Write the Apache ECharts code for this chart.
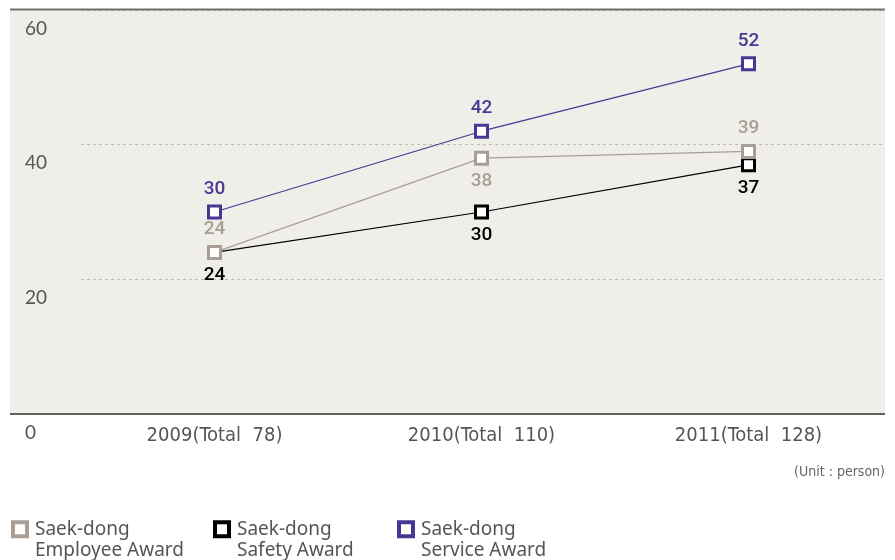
<!DOCTYPE html>
<html>
<head>
<meta charset="utf-8">
<script src="https://cdn.jsdelivr.net/npm/echarts@6/dist/echarts.min.js"></script>
<style>
  html, body { margin: 0; padding: 0; background: #ffffff; }
  #chart { width: 895px; height: 560px; }
</style>
</head>
<body>
<div id="chart"></div>
<script>
// Award recipients per year (unit: person)
const categories = ['2009(Total  78)', '2010(Total  110)', '2011(Total  128)'];
const employeeAward = [24, 38, 39];
const safetyAward = [24, 30, 37];
const serviceAward = [30, 42, 52];
const yMin = 0, yMax = 60, yStep = 20;

const seriesNames = ['Saek-dong\nEmployee Award', 'Saek-dong\nSafety Award', 'Saek-dong\nService Award'];
const colors = ['#a99e95', '#000000', '#4a3794'];

const chart = echarts.init(document.getElementById('chart'), null, { renderer: 'canvas' });

const labelFont = { fontFamily: 'Roboto, Noto Sans, sans-serif', fontSize: 19, fontWeight: 500 };

// The 2010 employee value sits right under the service marker, so its label goes below
const employeeData = employeeAward.map(function (v, k) {
  return k === 1 ? { value: v, label: { position: 'bottom' } } : v;
});

function lineSeries(i, data, labelPos, z) {
  return {
    name: seriesNames[i],
    type: 'line',
    data: data,
    symbol: 'rect',
    symbolSize: 12,
    z: z,
    lineStyle: { color: colors[i], width: 1.2 },
    itemStyle: { color: '#ffffff', borderColor: colors[i], borderWidth: 3 },
    label: Object.assign({ show: true, position: labelPos, distance: 6, color: colors[i] }, labelFont),
    labelLayout: { hideOverlap: false },
    emphasis: { disabled: true },
    animation: false
  };
}

// One legend block per series; the leading blank line keeps the icon level with the first text line
function legendAt(i, left) {
  return {
    data: [seriesNames[i]],
    left: left,
    top: 497,
    padding: 0,
    icon: 'rect',
    itemWidth: 14,
    itemHeight: 14,
    itemStyle: { color: '#ffffff', borderColor: colors[i], borderWidth: 4 },
    formatter: function (name) { return '\n' + name; },
    textStyle: {
      color: '#555555',
      fontFamily: 'Noto Sans, sans-serif',
      fontSize: 19,
      lineHeight: 21.5,
      padding: [0, 0, 0, 3]
    },
    selectedMode: false
  };
}

chart.setOption({
  animation: false,
  grid: { left: 81, right: 13, top: 10, bottom: 146, containLabel: false },
  graphic: [
    { type: 'rect', z: -10, shape: { x: 10, y: 9, width: 875, height: 405 }, style: { fill: '#efeee9' } },
    { type: 'line', z: 10, shape: { x1: 10, y1: 9.5, x2: 885, y2: 9.5 }, style: { stroke: '#707070', lineWidth: 2 } },
    { type: 'line', z: 10, shape: { x1: 10, y1: 414, x2: 885, y2: 414 }, style: { stroke: '#606060', lineWidth: 2 } }
  ],
  title: {
    text: '(Unit : person)',
    right: 10,
    top: 465,
    padding: 0,
    textStyle: { color: '#666666', fontSize: 14, fontWeight: 'normal', fontFamily: 'Liberation Sans Narrow, DejaVu Sans Condensed, sans-serif' }
  },
  xAxis: {
    type: 'category',
    data: categories,
    boundaryGap: true,
    axisLine: { show: false },
    axisTick: { show: false },
    axisLabel: {
      margin: 12,
      color: '#555555',
      fontSize: 20,
      fontFamily: 'Liberation Sans Narrow, DejaVu Sans Condensed, sans-serif'
    },
    splitLine: { show: false }
  },
  yAxis: {
    type: 'value',
    min: yMin,
    max: yMax,
    interval: yStep,
    axisLine: { show: false },
    axisTick: { show: false },
    axisLabel: {
      align: 'left',
      verticalAlign: 'top',
      margin: 56,
      padding: [9, 0, 0, 0],
      color: '#555555',
      fontSize: 19,
      fontFamily: 'Lato, Noto Sans, sans-serif'
    },
    splitLine: { show: true, lineStyle: { color: '#bdbbb6', type: [3, 3], width: 1 } }
  },
  legend: [legendAt(0, 11), legendAt(1, 213), legendAt(2, 397)],
  series: [
    lineSeries(1, safetyAward, 'bottom', 3),
    lineSeries(0, employeeData, 'top', 4),
    lineSeries(2, serviceAward, 'top', 5)
  ]
});
</script>
</body>
</html>
